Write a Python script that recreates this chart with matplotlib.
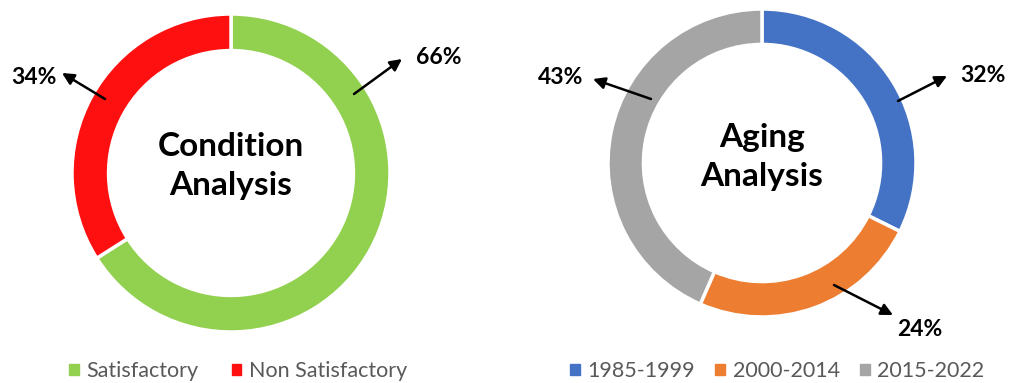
import matplotlib.pyplot as plt
from matplotlib.patches import Patch

plt.rcParams['font.family'] = ['Lato', 'DejaVu Sans']

# condition data
cond_labels = ['Satisfactory', 'Non Satisfactory']
cond_values = [66, 34]
cond_colors = ['#92D050', '#FF1010']

# aging data
age_labels = ['1985-1999', '2000-2014', '2015-2022']
age_values = [32, 24, 43]
age_colors = ['#4472C4', '#ED7D31', '#A5A5A5']

W, H = 1011, 383
fig = plt.figure(figsize=(W / 100, H / 100), dpi=100)
ax = fig.add_axes([0, 0, 1, 1])


def py(y):
    # image rows run downward, axes run upward
    return H - y


def donut(values, colors, cx, cy, r, title, ty):
    ax.pie(values, colors=colors, startangle=90, counterclock=False,
           center=(cx, py(cy)), radius=r, frame=True,
           wedgeprops=dict(width=r * 0.23, edgecolor='white', linewidth=2.5))
    ax.text(cx, py(ty), title, ha='center', va='center', fontsize=24,
            fontweight='bold', linespacing=1.4)


def callout(values, cx, cy, arrows):
    for v, (tail, tip, lab) in zip(values, arrows):
        ax.annotate('', xy=(cx + tip[0], py(cy + tip[1])),
                    xytext=(cx + tail[0], py(cy + tail[1])),
                    arrowprops=dict(arrowstyle='-|>,head_length=0.7,head_width=0.35',
                                    color='black', lw=1.8, shrinkA=0, shrinkB=0))
        ax.text(cx + lab[0], py(cy + lab[1]), f'{v}%', ha='center', va='center',
                fontsize=16.5, fontweight='bold')


donut(cond_values, cond_colors, 231, 173, 159, 'Condition\nAnalysis', 166)
callout(cond_values, 231, 173, [
    ((123, -79), (171, -114), (208, -116)),
    ((-126, -74), (-169, -100), (-197, -96)),
])

donut(age_values, age_colors, 762, 163, 154, 'Aging\nAnalysis', 157)
callout(age_values, 762, 163, [
    ((136, -62), (185, -87), (221, -88)),
    ((72, 122), (131, 152), (158, 166)),
    ((-111, -64), (-169, -84), (-201, -85)),
])

ax.set_xlim(0, W)
ax.set_ylim(0, H)
ax.set_aspect('equal')
ax.axis('off')

# legends under each ring
leg_kw = dict(ncol=3, frameon=False, fontsize=15.5, handlelength=0.45,
              handleheight=0.45, handletextpad=0.35, borderpad=0,
              borderaxespad=0, labelcolor='#595959', loc='center left',
              bbox_transform=ax.transData)
leg1 = ax.legend(handles=[Patch(color=c, label=l) for c, l in zip(cond_colors, cond_labels)],
                 bbox_to_anchor=(69, py(371)), columnspacing=1.55, **leg_kw)
ax.add_artist(leg1)
ax.legend(handles=[Patch(color=c, label=l) for c, l in zip(age_colors, age_labels)],
          bbox_to_anchor=(570, py(371)), columnspacing=0.95, **leg_kw)

fig.savefig('out.png', dpi=100)
